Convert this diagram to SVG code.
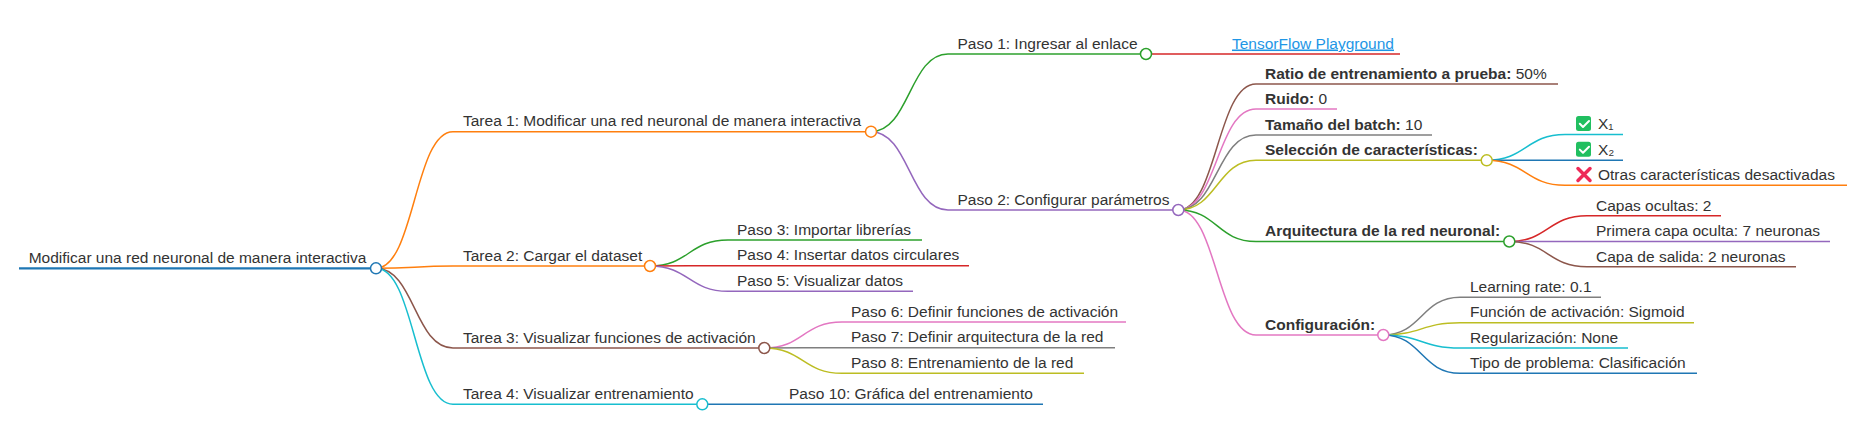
<svg xmlns="http://www.w3.org/2000/svg" width="1861" height="424" viewBox="0 0 1861 424">
<style>
text{font-family:"Liberation Sans",Arial,sans-serif;font-size:15.5px;fill:#333}
.b{font-weight:bold}
.ln{fill:none;stroke-width:1.5}
.lk{fill:none;stroke-width:1.5}
.c{fill:#fff;stroke-width:1.5}
.a{color:#1e96e6}
.blue{stroke:#1f77b4}.orange{stroke:#ff7f0e}.green{stroke:#2ca02c}.red{stroke:#d62728}.purple{stroke:#9467bd}
.brown{stroke:#8c564b}.pink{stroke:#e377c2}.gray{stroke:#7f7f7f}.olive{stroke:#bcbd22}.cyan{stroke:#17becf}
.link{fill:#1e96e6;text-decoration:underline}
.chk{fill:#21bf60}
.tick{fill:none;stroke:#fff;stroke-width:2;stroke-linecap:round;stroke-linejoin:round}
.x{stroke:#ee2a58;stroke-width:3.5;stroke-linecap:round}
</style>
<g id="connectors">
<path class="lk orange" d="M376 268.3C414.5 268.3 414.5 131.7 453 131.7"/>
<path class="lk orange" d="M376 268.3C414.5 268.3 414.5 266 453 266"/>
<path class="lk brown" d="M376 268.3C414.5 268.3 414.5 348 453 348"/>
<path class="lk cyan" d="M376 268.3C414.5 268.3 414.5 404.3 453 404.3"/>
<path class="lk green" d="M871 131.7C909.5 131.7 909.5 54 948 54"/>
<path class="lk purple" d="M871 131.7C909.5 131.7 909.5 210 948 210"/>
<path class="lk red" d="M1146 54L1223 54"/>
<path class="lk brown" d="M1178.3 210C1217 210 1217 84 1256 84"/>
<path class="lk pink" d="M1178.3 210C1217 210 1217 109 1256 109"/>
<path class="lk gray" d="M1178.3 210C1217 210 1217 135 1256 135"/>
<path class="lk olive" d="M1178.3 210C1217 210 1217 160.3 1256 160.3"/>
<path class="lk green" d="M1178.3 210C1217 210 1217 241.5 1256 241.5"/>
<path class="lk pink" d="M1178.3 210C1217 210 1217 335 1256 335"/>
<path class="lk cyan" d="M1486.7 160.3C1526 160.3 1526 134.5 1565 134.5"/>
<path class="lk blue" d="M1486.7 160.3L1565 160.3"/>
<path class="lk orange" d="M1486.7 160.3C1526 160.3 1526 185.3 1565 185.3"/>
<path class="lk red" d="M1509.3 241.5C1548 241.5 1548 215.7 1587 215.7"/>
<path class="lk purple" d="M1509.3 241.5L1587 241.5"/>
<path class="lk brown" d="M1509.3 241.5C1548 241.5 1548 266.7 1587 266.7"/>
<path class="lk gray" d="M1383.3 335C1421.5 335 1421.5 297.3 1460 297.3"/>
<path class="lk olive" d="M1383.3 335C1421.5 335 1421.5 322.7 1460 322.7"/>
<path class="lk cyan" d="M1383.3 335C1421.5 335 1421.5 348 1460 348"/>
<path class="lk blue" d="M1383.3 335C1421.5 335 1421.5 373.3 1460 373.3"/>
<path class="lk green" d="M650 266C689 266 689 240 728 240"/>
<path class="lk red" d="M650 266C689 266 689 265.7 728 265.7"/>
<path class="lk purple" d="M650 266C689 266 689 291.3 728 291.3"/>
<path class="lk pink" d="M764.3 348C803 348 803 322 842 322"/>
<path class="lk gray" d="M764.3 348C803 348 803 347.7 842 347.7"/>
<path class="lk olive" d="M764.3 348C803 348 803 373.3 842 373.3"/>
<path class="lk blue" d="M702.3 404.3L780 404.3"/>
</g>
<g id="root">
<line class="ln blue" style="stroke-width:2.2" x1="19" y1="268.3" x2="376" y2="268.3"/>
<text x="28.7" y="263">Modificar una red neuronal de manera interactiva</text>
<circle class="c blue" cx="376" cy="268.3" r="5.5"/>
</g>
<g id="tarea1">
<line class="ln orange" x1="453" y1="131.7" x2="871" y2="131.7"/>
<text x="463" y="126">Tarea 1: Modificar una red neuronal de manera interactiva</text>
<circle class="c orange" cx="871" cy="131.7" r="5.5"/>
</g>
<g id="paso1">
<line class="ln green" x1="948" y1="54" x2="1146" y2="54"/>
<text x="957.5" y="48.5">Paso 1: Ingresar al enlace</text>
<circle class="c green" cx="1146" cy="54" r="5.5"/>
</g>
<g id="tensorflow">
<line class="ln red" x1="1223" y1="54" x2="1400" y2="54"/>
<text class="link" x="1232" y="48.5">TensorFlow Playground</text>
</g>
<g id="paso2">
<line class="ln purple" x1="948" y1="210" x2="1178.3" y2="210"/>
<text x="957.5" y="204.5">Paso 2: Configurar parámetros</text>
<circle class="c purple" cx="1178.3" cy="210" r="5.5"/>
</g>
<g id="ratio">
<line class="ln brown" x1="1256" y1="84" x2="1558" y2="84"/>
<text x="1265" y="78.5"><tspan class="b">Ratio de entrenamiento a prueba:</tspan> 50%</text>
</g>
<g id="ruido">
<line class="ln pink" x1="1256" y1="109" x2="1337" y2="109"/>
<text x="1265" y="103.5"><tspan class="b">Ruido:</tspan> 0</text>
</g>
<g id="batch">
<line class="ln gray" x1="1256" y1="135" x2="1432" y2="135"/>
<text x="1265" y="129.5"><tspan class="b">Tamaño del batch:</tspan> 10</text>
</g>
<g id="seleccion">
<line class="ln olive" x1="1256" y1="160.3" x2="1486.7" y2="160.3"/>
<text class="b" x="1265" y="154.8">Selección de características:</text>
<circle class="c olive" cx="1486.7" cy="160.3" r="5.5"/>
</g>
<g id="x1">
<line class="ln cyan" x1="1565" y1="134.5" x2="1623" y2="134.5"/>
<rect class="chk" x="1576" y="116" width="15" height="15" rx="2.5"/>
<path class="tick" d="M1579.8 123.8l3.2 3.2l6-6"/>
<text x="1598" y="129">X₁</text>
</g>
<g id="x2">
<line class="ln blue" x1="1565" y1="160.3" x2="1623" y2="160.3"/>
<rect class="chk" x="1576" y="141.8" width="15" height="15" rx="2.5"/>
<path class="tick" d="M1579.8 149.6l3.2 3.2l6-6"/>
<text x="1598" y="154.8">X₂</text>
</g>
<g id="otras">
<line class="ln orange" x1="1565" y1="185.3" x2="1847" y2="185.3"/>
<path class="x" d="M1578 168.5L1590 180.5M1590 168.5L1578 180.5"/>
<text x="1598" y="180">Otras características desactivadas</text>
</g>
<g id="arquitectura">
<line class="ln green" x1="1256" y1="241.5" x2="1509.3" y2="241.5"/>
<text class="b" x="1265" y="236">Arquitectura de la red neuronal:</text>
<circle class="c green" cx="1509.3" cy="241.5" r="5.5"/>
</g>
<g id="capas">
<line class="ln red" x1="1587" y1="215.7" x2="1721" y2="215.7"/>
<text x="1596" y="210.5">Capas ocultas: 2</text>
</g>
<g id="primera">
<line class="ln purple" x1="1587" y1="241.5" x2="1830" y2="241.5"/>
<text x="1596" y="236">Primera capa oculta: 7 neuronas</text>
</g>
<g id="salida">
<line class="ln brown" x1="1587" y1="266.7" x2="1796" y2="266.7"/>
<text x="1596" y="261.5">Capa de salida: 2 neuronas</text>
</g>
<g id="configuracion">
<line class="ln pink" x1="1256" y1="335" x2="1383.3" y2="335"/>
<text class="b" x="1265" y="329.5">Configuración:</text>
<circle class="c pink" cx="1383.3" cy="335" r="5.5"/>
</g>
<g id="learning">
<line class="ln gray" x1="1460" y1="297.3" x2="1601" y2="297.3"/>
<text x="1470" y="292">Learning rate: 0.1</text>
</g>
<g id="funcion">
<line class="ln olive" x1="1460" y1="322.7" x2="1694" y2="322.7"/>
<text x="1470" y="317.3">Función de activación: Sigmoid</text>
</g>
<g id="regularizacion">
<line class="ln cyan" x1="1460" y1="348" x2="1628" y2="348"/>
<text x="1470" y="342.5">Regularización: None</text>
</g>
<g id="tipo">
<line class="ln blue" x1="1460" y1="373.3" x2="1697" y2="373.3"/>
<text x="1470" y="368">Tipo de problema: Clasificación</text>
</g>
<g id="tarea2">
<line class="ln orange" x1="453" y1="266" x2="650" y2="266"/>
<text x="463" y="260.5">Tarea 2: Cargar el dataset</text>
<circle class="c orange" cx="650" cy="266" r="5.5"/>
</g>
<g id="paso3">
<line class="ln green" x1="728" y1="240" x2="922" y2="240"/>
<text x="737" y="234.5">Paso 3: Importar librerías</text>
</g>
<g id="paso4">
<line class="ln red" x1="728" y1="265.7" x2="969" y2="265.7"/>
<text x="737" y="260.2">Paso 4: Insertar datos circulares</text>
</g>
<g id="paso5">
<line class="ln purple" x1="728" y1="291.3" x2="913" y2="291.3"/>
<text x="737" y="285.8">Paso 5: Visualizar datos</text>
</g>
<g id="tarea3">
<line class="ln brown" x1="453" y1="348" x2="764.3" y2="348"/>
<text x="463" y="342.5">Tarea 3: Visualizar funciones de activación</text>
<circle class="c brown" cx="764.3" cy="348" r="5.5"/>
</g>
<g id="paso6">
<line class="ln pink" x1="842" y1="322" x2="1126" y2="322"/>
<text x="851" y="316.5">Paso 6: Definir funciones de activación</text>
</g>
<g id="paso7">
<line class="ln gray" x1="842" y1="347.7" x2="1115" y2="347.7"/>
<text x="851" y="342.2">Paso 7: Definir arquitectura de la red</text>
</g>
<g id="paso8">
<line class="ln olive" x1="842" y1="373.3" x2="1084" y2="373.3"/>
<text x="851" y="367.8">Paso 8: Entrenamiento de la red</text>
</g>
<g id="tarea4">
<line class="ln cyan" x1="453" y1="404.3" x2="702.3" y2="404.3"/>
<text x="463" y="398.8">Tarea 4: Visualizar entrenamiento</text>
<circle class="c cyan" cx="702.3" cy="404.3" r="5.5"/>
</g>
<g id="paso10">
<line class="ln blue" x1="780" y1="404.3" x2="1043" y2="404.3"/>
<text x="789" y="398.8">Paso 10: Gráfica del entrenamiento</text>
</g>
</svg>
